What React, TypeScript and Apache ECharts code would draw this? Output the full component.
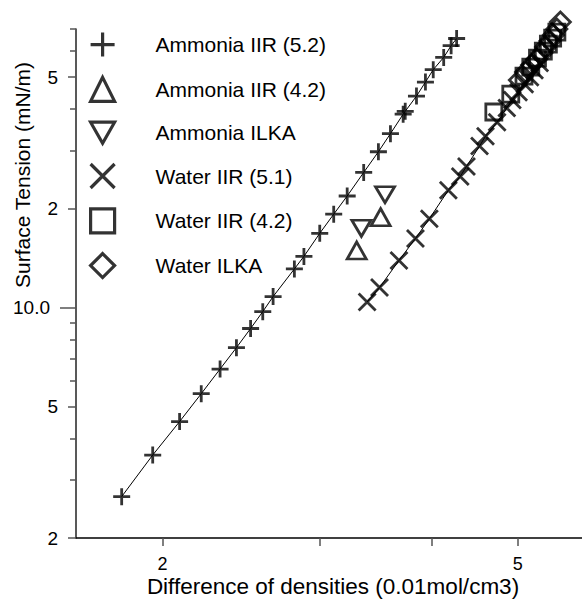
import React, { useEffect, useRef } from "react";
import * as echarts from "echarts";

// ---- data (x: difference of densities, y: surface tension) ----
const ammoniaIIR52: number[][] = [
  [1.80, 2.67], [1.95, 3.57], [2.09, 4.51], [2.21, 5.48], [2.32, 6.51], [2.42, 7.56],
  [2.51, 8.64], [2.59, 9.72], [2.66, 10.8], [2.81, 13.1], [2.88, 14.3], [3.00, 16.8],
  [3.11, 19.2], [3.22, 21.8], [3.36, 25.7], [3.49, 29.7], [3.60, 33.7], [3.72, 38.6],
  [3.74, 39.4], [3.85, 43.8], [3.94, 48.3], [4.02, 52.7], [4.13, 57.4], [4.21, 62.3],
  [4.27, 65.5],
];
const ammoniaIIR42: number[][] = [[3.30, 14.9], [3.51, 18.8]];
const ammoniaILKA: number[][] = [[3.34, 17.4], [3.55, 22.0]];
const waterIIR51: number[][] = [
  [3.39, 10.4], [3.50, 11.5], [3.68, 13.9], [3.84, 16.2], [3.98, 18.6], [4.18, 22.7],
  [4.31, 25.0], [4.38, 26.8], [4.53, 30.9], [4.60, 33.1], [4.74, 36.5], [4.86, 40.3],
  [4.93, 42.6], [5.01, 45.0], [5.09, 47.6], [5.16, 50.0], [5.22, 52.5], [5.29, 55.2],
];
const waterIIR42: number[][] = [
  [4.70, 39.2], [4.91, 44.4], [5.08, 50.4], [5.17, 53.6], [5.26, 57.1], [5.34, 60.0],
  [5.41, 63.0], [5.47, 65.7], [5.53, 68.5],
];
const waterILKA: number[][] = [
  [5.02, 49.0], [5.10, 51.8], [5.18, 54.4], [5.25, 56.7], [5.32, 59.2], [5.37, 61.7],
  [5.43, 64.4], [5.48, 67.1], [5.53, 70.0], [5.58, 73.5],
];

const seriesNames = [
  "Ammonia IIR (5.2)",
  "Ammonia IIR (4.2)",
  "Ammonia ILKA",
  "Water IIR (5.1)",
  "Water IIR (4.2)",
  "Water ILKA",
];

// ---- axes ----
const xMin = 1.6;
const xMax = 5.9;
const yMin = 2;
const yMax = 70;
const xTickValues = [2, 3, 4, 5];
const xLabelValues = [2, 5];
const xLabelTexts = ["2", "5"];
const yMajorTicks = [2, 5, 20, 50];
const yDecadeTicks = [10];
const yMinorTicks = [3, 4, 6, 7, 8, 9, 30, 40, 60, 70];
const yLabelValues = [2, 5, 10, 20, 50];
const yLabelTexts = ["2", "5", "10.0", "2", "5"];

const xTitle = "Difference of densities (0.01mol/cm3)";
const yTitle = "Surface Tension (mN/m)";

const FONT = "'Liberation Sans', Arial, Helvetica, sans-serif";

const SYM_PLUS = "path://M8,0L8,16M0,8L16,8";
const SYM_CROSS = "path://M0,0L16,16M16,0L0,16";
const SYM_TRI_DOWN = "path://M0,0L16,0L8,14Z";
const symbols = [SYM_PLUS, "triangle", SYM_TRI_DOWN, SYM_CROSS, "rect", "diamond"];
const symbolSizes = [17, [19, 17], [19, 16], 17, 16, 20];

function lookup(values: number[], texts: string[], v: number): string {
  for (let i = 0; i < values.length; i++) {
    if (Math.abs(values[i] - v) < 1e-6 * Math.max(1, values[i])) return texts[i];
  }
  return "";
}

export default function App() {
  const ref = useRef<HTMLDivElement>(null);

  useEffect(() => {
    if (!ref.current) return;
    const chart = echarts.init(ref.current, undefined, { renderer: "svg" });
    const datasets = [ammoniaIIR52, ammoniaIIR42, ammoniaILKA, waterIIR51, waterIIR42, waterILKA];

    const hollow = { color: "transparent", borderColor: "#000", borderWidth: 2.8 };

    const scatterSeries = datasets.map((d, i) => ({
      type: "scatter",
      name: seriesNames[i],
      data: d,
      symbol: symbols[i],
      symbolSize: symbolSizes[i],
      itemStyle: hollow,
      clip: false,
      z: 3,
      emphasis: { disabled: true },
    }));

    const lineOf = (d: number[][], name: string) => ({
      type: "line",
      name,
      data: d,
      showSymbol: false,
      symbol: "none",
      lineStyle: { color: "#000", width: 1 },
      z: 2,
      silent: true,
    });

    const yBase = {
      type: "log",
      logBase: 10,
      min: yMin,
      max: yMax,
      position: "left",
      splitLine: { show: false },
      minorTick: { show: false },
      minorSplitLine: { show: false },
    };

    chart.setOption({
      animation: false,
      backgroundColor: "#fff",
      textStyle: { fontFamily: FONT },
      grid: { left: 76, right: 0, top: 29, bottom: 62, containLabel: false, outerBoundsMode: "none" },
      legend: {
        orient: "vertical",
        left: 84,
        top: 26,
        itemWidth: 24,
        itemHeight: 24,
        itemGap: 17.6,
        selectedMode: false,
        data: seriesNames.map((n, i) => ({ name: n, icon: symbols[i] })),
        itemStyle: { color: "transparent", borderColor: "#000", borderWidth: 3.2 },
        textStyle: { fontSize: 21, color: "#000", fontFamily: FONT, padding: [0, 0, 0, 36] },
      },
      xAxis: {
        type: "log",
        logBase: 10,
        min: xMin,
        max: xMax,
        name: xTitle,
        nameLocation: "middle",
        nameGap: 36.7,
        nameMoveOverlap: false,
        nameTextStyle: { fontSize: 22.5, color: "#000", fontFamily: FONT, padding: [0, 0, 0, 8] },
        axisLine: { show: true, lineStyle: { color: "#000", width: 1.5 } },
        axisTick: { show: true, length: 8, customValues: xTickValues, lineStyle: { color: "#555", width: 1.5 } },
        axisLabel: {
          show: true,
          customValues: xLabelValues,
          margin: 16.5,
          fontSize: 18,
          color: "#000",
          fontFamily: FONT,
          formatter: (v: number) => lookup(xLabelValues, xLabelTexts, v),
        },
        splitLine: { show: false },
        minorTick: { show: false },
      },
      yAxis: [
        {
          ...yBase,
          axisLine: { show: true, lineStyle: { color: "#222", width: 1.5 } },
          axisTick: { show: true, length: 8, customValues: yMajorTicks, lineStyle: { color: "#555", width: 1.5 } },
          axisLabel: {
            show: true,
            customValues: yLabelValues,
            margin: 18,
            fontSize: 19,
            color: "#000",
            fontFamily: FONT,
            formatter: (v: number) => {
              const t = lookup(yLabelValues, yLabelTexts, v);
              return Math.abs(v - 10) < 1e-6 ? "{d|" + t + "}" : t;
            },
            rich: { d: { fontSize: 19, color: "#000", fontFamily: FONT, padding: [0, 8, 0, 0] } },
          },
        },
        {
          ...yBase,
          axisLine: { show: false },
          axisLabel: { show: false },
          axisTick: { show: true, length: 16, customValues: yDecadeTicks, lineStyle: { color: "#555", width: 1.5 } },
        },
        {
          ...yBase,
          axisLine: { show: false },
          axisLabel: { show: false },
          axisTick: { show: true, length: 6, customValues: yMinorTicks, lineStyle: { color: "#555", width: 1.5 } },
        },
      ],
      graphic: [
        {
          type: "text",
          x: 22,
          y: 175,
          rotation: Math.PI / 2,
          silent: true,
          style: {
            text: yTitle,
            fill: "#000",
            font: "21px " + FONT,
            align: "center",
            verticalAlign: "middle",
            textAlign: "center",
            textVerticalAlign: "middle",
          },
        },
      ],
      series: [
        lineOf(ammoniaIIR52, "ammonia-fit"),
        lineOf(waterIIR51, "water-fit"),
        ...scatterSeries,
      ],
    });

    return () => chart.dispose();
  }, []);

  return (
    <div
      ref={ref}
      style={{ position: "fixed", left: 0, top: 0, width: 582, height: 600, background: "#fff" }}
    />
  );
}
